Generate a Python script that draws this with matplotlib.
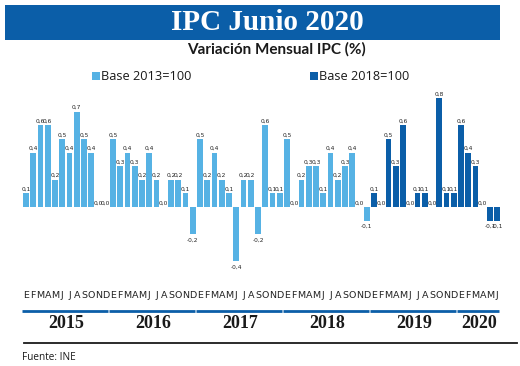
import matplotlib
matplotlib.use("Agg")
import matplotlib.pyplot as plt
from matplotlib.patches import Rectangle
from matplotlib.transforms import blended_transform_factory

# monthly IPC variation (%), Jan 2015 .. Jun 2020
years = ["2015", "2016", "2017", "2018", "2019", "2020"]
month_letters = ["E", "F", "M", "A", "M", "J", "J", "A", "S", "O", "N", "D"]
base2013 = [
    0.1, 0.4, 0.6, 0.6, 0.2, 0.5, 0.4, 0.7, 0.5, 0.4, 0.0, 0.0,
    0.5, 0.3, 0.4, 0.3, 0.2, 0.4, 0.2, 0.0, 0.2, 0.2, 0.1, -0.2,
    0.5, 0.2, 0.4, 0.2, 0.1, -0.4, 0.2, 0.2, -0.2, 0.6, 0.1, 0.1,
    0.5, 0.0, 0.2, 0.3, 0.3, 0.1, 0.4, 0.2, 0.3, 0.4, 0.0, -0.1,
]
base2018 = [
    0.1, 0.0, 0.5, 0.3, 0.6, 0.0, 0.1, 0.1, 0.0, 0.8, 0.1, 0.1,
    0.6, 0.4, 0.3, 0.0, -0.1, -0.1,
]
series_names = ["Base 2013=100", "Base 2018=100"]

LIGHT = "#56b2e4"
DARK = "#0b5ea8"
W, H = 520, 366


def fx(px):
    return px / W


def fy(py):
    # py measured from the top
    return 1 - py / H


fig = plt.figure(figsize=(W / 100, H / 100), dpi=100)
fig.patch.set_facecolor("white")

# one axes over the whole figure, zero line 207 px from top
step = 7.25
ppu = 136.0
ax = fig.add_axes([0, 0, 1, 1])
ax.set_xlim(-26 / step, (W - 26) / step)
ax.set_ylim(-(H - 207) / ppu, 207 / ppu)
ax.axis("off")

values = base2013 + base2018
x1 = list(range(len(base2013)))
x2 = list(range(len(base2013), len(values)))
ax.bar(x1, base2013, width=0.76, color=LIGHT)
ax.bar(x2, base2018, width=0.76, color=DARK)

lab_font = ["Liberation Sans Narrow", "DejaVu Sans"]
for i, v in enumerate(values):
    txt = f"{v:.1f}".replace(".", ",")
    if v < 0:
        ax.annotate(txt, (i, v), xytext=(0, -2.5), textcoords="offset points",
                    ha="center", va="top", fontsize=4.2, family=lab_font,
                    color="#222222")
    else:
        ax.annotate(txt, (i, v), xytext=(0, 1.2), textcoords="offset points",
                    ha="center", va="bottom", fontsize=4.2, family=lab_font,
                    color="#222222")

# month letters, year lines and year labels
tr = blended_transform_factory(ax.transData, fig.transFigure)
for i in range(len(values)):
    ax.text(i, fy(295.5), month_letters[i % 12], transform=tr, ha="center",
            va="center", fontsize=6.8, family=lab_font, color="#222222")

for k, yr in enumerate(years):
    start = k * 12
    end = min(start + 11, len(values) - 1)
    ax.plot([start - 0.5, end + 0.25], [fy(311), fy(311)], transform=tr,
            color=DARK, lw=2.0, solid_capstyle="butt", clip_on=False)
    ax.text((start + end) / 2, fy(324), yr, transform=tr, ha="center",
            va="center", fontsize=13, fontweight="bold",
            family="Liberation Serif", color="#1a1a1a")

# bottom rule and source
fig.add_artist(plt.Line2D([fx(24), fx(517)], [fy(343), fy(343)],
                          color="#1a1a1a", lw=1.3))
fig.text(fx(22), fy(357), "Fuente: INE", fontsize=7.2, family="Open Sans",
         ha="left", va="center", color="#1a1a1a")

# title banner
fig.add_artist(Rectangle((fx(5), fy(40)), fx(495), 35 / H,
                         transform=fig.transFigure, color=DARK, lw=0))
fig.text(fx(267), fy(22), "IPC Junio 2020", fontsize=21, fontweight="bold",
         family="Liberation Serif", color="white", ha="center", va="center")
fig.text(fx(276), fy(49), "Variación Mensual IPC (%)", fontsize=11,
         fontweight="bold", family="Lato", color="#1a1a1a", ha="center",
         va="center")

# legend
for px, col, name in [(92, LIGHT, series_names[0]), (310, DARK, series_names[1])]:
    fig.add_artist(Rectangle((fx(px), fy(80)), 8 / W, 8 / H,
                             transform=fig.transFigure, color=col, lw=0))
    fig.text(fx(px + 9), fy(76), name, fontsize=9.2, family="Open Sans",
             color="#1a1a1a", ha="left", va="center")

fig.savefig("out.png", dpi=100)
